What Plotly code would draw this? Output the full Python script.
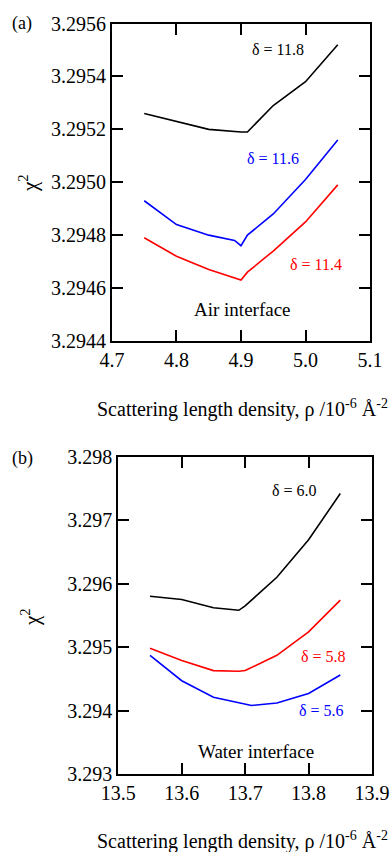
import plotly.graph_objects as go

# Panel (a): Air interface
rho_a = [4.75, 4.80, 4.85, 4.90, 4.91, 4.95, 5.00, 5.05]
chi_a_118 = [3.29526, 3.29523, 3.29520, 3.29519, 3.29519, 3.29529, 3.29538, 3.29552]
rho_a_116 = [4.75, 4.80, 4.85, 4.89, 4.90, 4.91, 4.95, 5.00, 5.05]
chi_a_116 = [3.29493, 3.29484, 3.29480, 3.29478, 3.29476, 3.29480, 3.29488, 3.29501, 3.29516]
chi_a_114 = [3.29479, 3.29472, 3.29467, 3.29463, 3.29466, 3.29474, 3.29485, 3.29499]

# Panel (b): Water interface
rho_b = [13.55, 13.60, 13.65, 13.69, 13.70, 13.75, 13.80, 13.85]
chi_b_60 = [3.29580, 3.29575, 3.29562, 3.29558, 3.29565, 3.29610, 3.29669, 3.29742]
chi_b_58 = [3.29498, 3.29479, 3.29463, 3.29462, 3.29463, 3.29487, 3.29524, 3.29574]
rho_b_56 = [13.55, 13.60, 13.65, 13.70, 13.71, 13.75, 13.80, 13.85]
chi_b_56 = [3.29487, 3.29447, 3.29421, 3.29410, 3.29408, 3.29412, 3.29427, 3.29456]

xt_a = [4.7, 4.8, 4.9, 5.0, 5.1]
xt_a_lbl = ["4.7", "4.8", "4.9", "5.0", "5.1"]
yt_a = [3.2944, 3.2946, 3.2948, 3.2950, 3.2952, 3.2954, 3.2956]
yt_a_lbl = ["3.2944", "3.2946", "3.2948", "3.2950", "3.2952", "3.2954", "3.2956"]
xt_b = [13.5, 13.6, 13.7, 13.8, 13.9]
xt_b_lbl = ["13.5", "13.6", "13.7", "13.8", "13.9"]
yt_b = [3.293, 3.294, 3.295, 3.296, 3.297, 3.298]
yt_b_lbl = ["3.293", "3.294", "3.295", "3.296", "3.297", "3.298"]

FONT = "Liberation Serif"
BLUE = "#0000ff"
RED = "#ff0000"
BLACK = "#000000"

fig = go.Figure()
lw = 1.6
fig.add_trace(go.Scatter(x=rho_a, y=chi_a_118, mode="lines", line=dict(color=BLACK, width=lw), xaxis="x", yaxis="y"))
fig.add_trace(go.Scatter(x=rho_a_116, y=chi_a_116, mode="lines", line=dict(color=BLUE, width=lw), xaxis="x", yaxis="y"))
fig.add_trace(go.Scatter(x=rho_a, y=chi_a_114, mode="lines", line=dict(color=RED, width=lw), xaxis="x", yaxis="y"))
fig.add_trace(go.Scatter(x=rho_b, y=chi_b_60, mode="lines", line=dict(color=BLACK, width=lw), xaxis="x2", yaxis="y2"))
fig.add_trace(go.Scatter(x=rho_b, y=chi_b_58, mode="lines", line=dict(color=RED, width=lw), xaxis="x2", yaxis="y2"))
fig.add_trace(go.Scatter(x=rho_b_56, y=chi_b_56, mode="lines", line=dict(color=BLUE, width=lw), xaxis="x2", yaxis="y2"))

axcommon = dict(showline=True, linecolor="black", linewidth=2, mirror="ticks",
                ticks="inside", ticklen=11, tickwidth=2, tickcolor="black",
                showgrid=False, zeroline=False, automargin=False,
                tickfont=dict(family=FONT, size=20, color="black"))

fig.update_layout(
    template="none",
    width=391, height=852,
    margin=dict(l=0, r=0, t=0, b=0),
    paper_bgcolor="white", plot_bgcolor="white",
    showlegend=False,
    font=dict(family=FONT, color="black"),
    xaxis=dict(domain=[0.2864, 0.9463], range=[4.7, 5.1], anchor="y",
               tickvals=xt_a, ticktext=xt_a_lbl, **axcommon),
    yaxis=dict(domain=[0.5998, 0.9724], range=[3.2944, 3.2956], anchor="x",
               tickvals=yt_a, ticktext=yt_a_lbl, **axcommon),
    xaxis2=dict(domain=[0.3026, 0.9514], range=[13.5, 13.9], anchor="y2",
                tickvals=xt_b, ticktext=xt_b_lbl, **axcommon),
    yaxis2=dict(domain=[0.0915, 0.4640], range=[3.293, 3.298], anchor="x2",
                tickvals=yt_b, ticktext=yt_b_lbl, **axcommon),
)

ann = []
def lab(text, x, y, xref, yref, color="black", size=16, angle=0):
    ann.append(dict(text=text, x=x, y=y, xref=xref, yref=yref, showarrow=False,
                    xanchor="center", yanchor="middle", textangle=angle,
                    font=dict(family=FONT, size=size, color=color)))

lab("δ = 11.8", 4.958, 3.29550, "x", "y")
lab("δ = 11.6", 4.950, 3.29509, "x", "y", color=BLUE)
lab("δ = 11.4", 5.016, 3.29469, "x", "y", color=RED)
lab("Air interface", 4.903, 3.29452, "x", "y", size=19)
lab("δ = 6.0", 13.778, 3.29746, "x2", "y2")
lab("δ = 5.8", 13.823, 3.29485, "x2", "y2", color=RED)
lab("δ = 5.6", 13.820, 3.29400, "x2", "y2", color=BLUE)
lab("Water interface", 13.717, 3.29335, "x2", "y2", size=19)

lab("(a)", 22/391, 1-23/852, "paper", "paper", size=18)
lab("(b)", 22/391, 1-459/852, "paper", "paper", size=18)
lab("χ<sup>2</sup>", 28/391, 1-183/852, "paper", "paper", size=21, angle=-90)
lab("χ<sup>2</sup>", 30/391, 1-617/852, "paper", "paper", size=21, angle=-90)
xt = "Scattering length density, ρ /10<sup>-6</sup> Å<sup>-2</sup>"
lab(xt, 242/391, 1-408/852, "paper", "paper", size=20)
lab(xt, 242/391, 1-840/852, "paper", "paper", size=20)
fig.update_layout(annotations=ann)

fig.write_html("out.html")
